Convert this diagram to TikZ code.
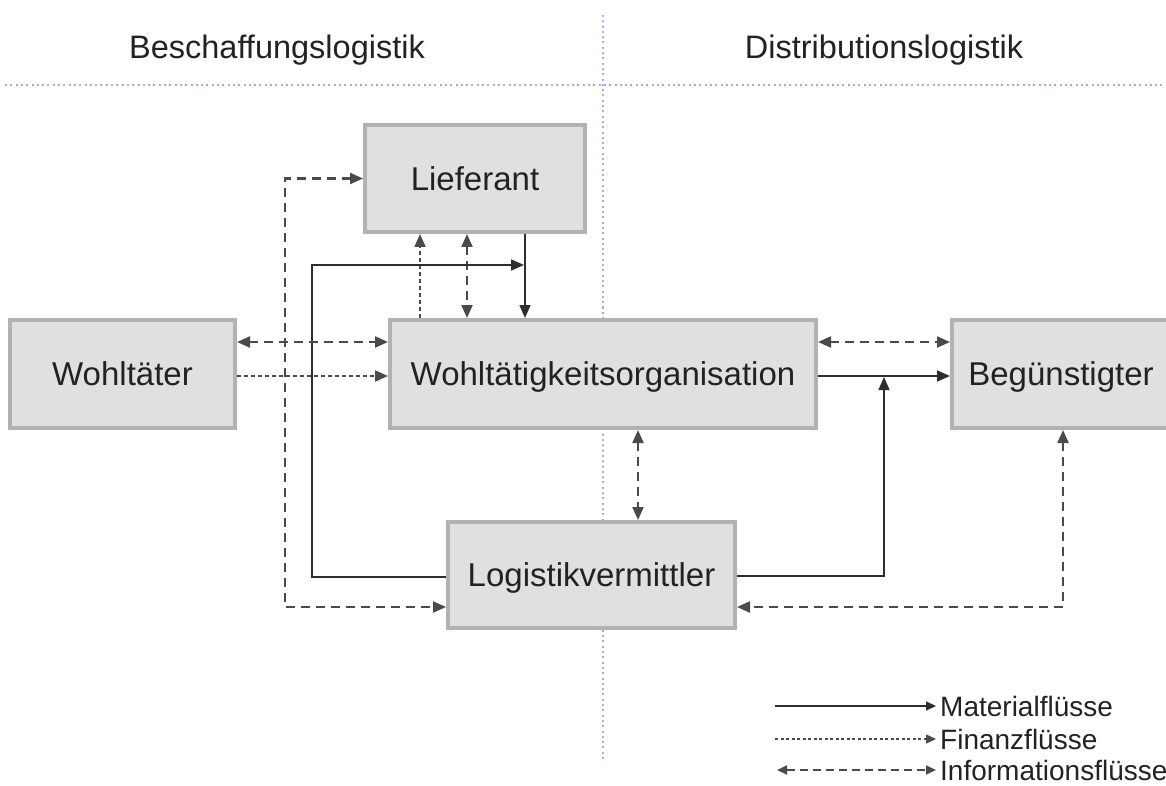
\documentclass[tikz,border=0pt]{standalone}
\usepackage{fontspec}
\setmainfont{Liberation Sans}
\usetikzlibrary{arrows.meta}
\definecolor{boxfill}{HTML}{E0E0E0}
\definecolor{boxline}{HTML}{B2B2B2}
\definecolor{sepline}{HTML}{A8A8F0}
\definecolor{txt}{HTML}{222222}
\definecolor{matc}{HTML}{2E2E2E}
\definecolor{dashc}{HTML}{4A4A4A}
\tikzset{
  box/.style={draw=boxline, fill=boxfill, line width=4pt, inner sep=0pt,
    font=\fontsize{33}{40}\selectfont, text=txt, text height=23.6pt, text depth=0pt},
  mat/.style={draw=matc, line width=1.6pt, -{Triangle[length=13pt,width=11pt]}},
  fin/.style={draw=dashc, line width=1.8pt, dash pattern=on 4pt off 3pt, -{Triangle[length=13pt,width=11pt]}},
  info/.style={draw=dashc, line width=2.2pt, dash pattern=on 9pt off 6pt, {Triangle[length=13pt,width=11pt]}-{Triangle[length=13pt,width=11pt]}},
  sep/.style={draw=sepline, line width=2pt, dash pattern=on 2pt off 3.3pt},
  head/.style={font=\fontsize{32.5}{40}\selectfont, text=txt, anchor=base, inner sep=0pt},
  legtxt/.style={font=\fontsize{28}{34}\selectfont, text=txt, anchor=west, inner sep=0pt, text height=20pt, text depth=0pt},
  lmat/.style={draw=matc, line width=1.4pt, -{Triangle[length=10pt,width=9pt]}},
  lfin/.style={draw=dashc, line width=1.4pt, dash pattern=on 3pt off 2.5pt, -{Triangle[length=10pt,width=9pt]}},
  linfo/.style={draw=dashc, line width=1.8pt, dash pattern=on 8pt off 5pt, {Triangle[length=10pt,width=9pt]}-{Triangle[length=10pt,width=9pt]}},
}
\begin{document}
\begin{tikzpicture}[x=1pt,y=-1pt]
\useasboundingbox (0,0) rectangle (1166,786);
% separators
\coordinate (hl) at (5,85);
\coordinate (hr) at (1166,85);
\coordinate (vt) at (603,15);
\coordinate (vb) at (603,762);
\draw[sep] (hl) -- (hr);
\draw[sep] (vt) -- (vb);
% headers
\node[head] (hb) at (277,59) {Beschaffungslogistik};
\node[head] (hd) at (884,59) {Distributionslogistik};
% boxes
\node[box, minimum width=220pt, minimum height=107pt] (L) at (475,178.5) {Lieferant};
\node[box, minimum width=426pt, minimum height=108pt] (O) at (603,374) {Wohltätigkeitsorganisation};
\node[box, minimum width=225pt, minimum height=108pt] (W) at (122.5,374) {Wohltäter};
\node[box, minimum width=218pt, minimum height=108pt] (B) at (1061,374) {Begünstigter};
\node[box, minimum width=287pt, minimum height=106pt] (V) at (591.5,575) {Logistikvermittler};
% helper coordinates
\coordinate (x420) at (420,0);
\coordinate (x467) at (467,0);
\coordinate (x525) at (525,0);
\coordinate (x638) at (638,0);
\coordinate (y342) at (0,342);
\coordinate (y376) at (0,376);
\coordinate (m1) at (312,577);
\coordinate (m2) at (312,265);
\coordinate (m3) at (524,265);
\coordinate (p1) at (285,178.5);
\coordinate (p2) at (285,607);
\coordinate (r1) at (884,576);
\coordinate (r2) at (884,377);
\coordinate (b1) at (1063,607);
% connectors Lieferant - WO
\draw[mat] (L.south -| x525) -- (O.north -| x525);
\draw[info] (L.south -| x467) -- (O.north -| x467);
\draw[fin] (O.north -| x420) -- (L.south -| x420);
% material loop from Logistikvermittler
\draw[mat] (V.west |- m1) -- (m1) -- (m2) -- (m3);
% info Lieferant - Logistikvermittler
\draw[info] (L.west) -- (p1) -- (p2) -- (V.west |- p2);
% Wohltaeter - WO
\draw[info] (W.east |- y342) -- (O.west |- y342);
\draw[fin] (W.east |- y376) -- (O.west |- y376);
% WO - Beguenstigter
\draw[info] (O.east |- y342) -- (B.west |- y342);
\draw[mat] (O.east |- y376) -- (B.west |- y376);
% Logistikvermittler - right
\draw[mat] (V.east |- r1) -- (r1) -- (r2);
\draw[info] (O.south -| x638) -- (V.north -| x638);
\draw[info] (B.south -| b1) -- (b1) -- (V.east |- b1);
% legend
\node[legtxt] (t1) at (940,706) {Materialflüsse};
\node[legtxt] (t2) at (940,739) {Finanzflüsse};
\node[legtxt] (t3) at (940,770) {Informationsflüsse};
\coordinate (l1) at (775,706);
\coordinate (l2) at (775,739);
\coordinate (l3) at (777,770);
\draw[lmat, shorten >=4pt] (l1) -- (t1.west);
\draw[lfin, shorten >=4pt] (l2) -- (t2.west);
\draw[linfo, shorten >=4pt] (l3) -- (t3.west);
\end{tikzpicture}
\end{document}
